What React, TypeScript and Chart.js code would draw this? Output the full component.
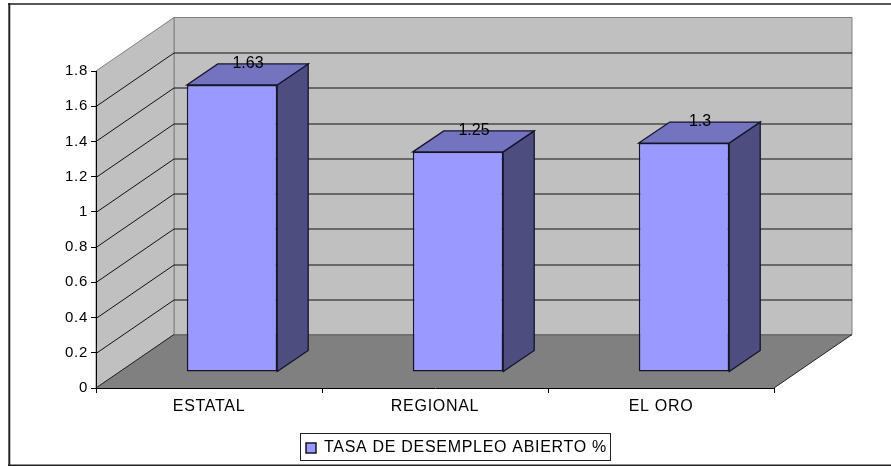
import React, { useEffect, useRef } from "react";
import { Chart, registerables } from "chart.js";

Chart.register(...registerables);

const categories = ["ESTATAL", "REGIONAL", "EL ORO"];
const seriesName = "TASA DE DESEMPLEO ABIERTO %";
const values = [1.63, 1.25, 1.3];

const FONT = "'Liberation Sans', Arial, sans-serif";
const WALL_DX = 78;
const WALL_DY = -53.5;
const BAR_SHIFT_X = 23;
const BAR_SHIFT_Y = -16;
const BAR_DX = 31;
const BAR_DY = -21;
const SPACING = "0.7px";

const walls = {
  id: "walls",
  beforeLayout(chart: any) {
    chart.ctx.letterSpacing = SPACING;
  },
  beforeDraw(chart: any) {
    const { ctx, chartArea: a, scales } = chart;
    const y = scales.y;
    ctx.letterSpacing = SPACING;
    ctx.save();
    ctx.fillStyle = "#ffffff";
    ctx.fillRect(0, 0, chart.width, chart.height);
    // outer frame
    ctx.strokeStyle = "#222222";
    ctx.lineWidth = 2;
    ctx.beginPath();
    ctx.moveTo(9.3, 466);
    ctx.lineTo(9.3, 3.3);
    ctx.stroke();
    ctx.lineWidth = 1.4;
    ctx.beginPath();
    ctx.moveTo(8, 4);
    ctx.lineTo(891, 4);
    ctx.moveTo(8, 465.3);
    ctx.lineTo(891, 465.3);
    ctx.stroke();
    ctx.lineWidth = 1;
    // back wall
    ctx.fillStyle = "#c0c0c0";
    ctx.strokeStyle = "#808080";
    ctx.beginPath();
    ctx.rect(a.left + WALL_DX, a.top + WALL_DY, a.right - a.left, a.bottom - a.top);
    ctx.fill();
    ctx.stroke();
    // side wall
    ctx.beginPath();
    ctx.moveTo(a.left, a.bottom);
    ctx.lineTo(a.left, a.top);
    ctx.lineTo(a.left + WALL_DX, a.top + WALL_DY);
    ctx.lineTo(a.left + WALL_DX, a.bottom + WALL_DY);
    ctx.closePath();
    ctx.fill();
    ctx.stroke();
    // gridlines
    ctx.strokeStyle = "#111111";
    y.ticks.forEach((_: any, i: number) => {
      if (i === 0 || i === y.ticks.length - 1) return;
      const p = Math.round(y.getPixelForTick(i)) + 0.5;
      ctx.beginPath();
      ctx.moveTo(a.left, p);
      ctx.lineTo(a.left + WALL_DX, p + WALL_DY);
      ctx.lineTo(a.right + WALL_DX, p + WALL_DY);
      ctx.stroke();
    });
    // floor
    ctx.fillStyle = "#808080";
    ctx.beginPath();
    ctx.moveTo(a.left, a.bottom);
    ctx.lineTo(a.right, a.bottom);
    ctx.lineTo(a.right + WALL_DX, a.bottom + WALL_DY);
    ctx.lineTo(a.left + WALL_DX, a.bottom + WALL_DY);
    ctx.closePath();
    ctx.fill();
    ctx.strokeStyle = "#606060";
    ctx.beginPath();
    ctx.moveTo(a.left + WALL_DX, a.bottom + WALL_DY + 0.5);
    ctx.lineTo(a.right + WALL_DX, a.bottom + WALL_DY + 0.5);
    ctx.stroke();
    ctx.strokeStyle = "#222222";
    ctx.beginPath();
    ctx.moveTo(a.right, a.bottom);
    ctx.lineTo(a.right + WALL_DX, a.bottom + WALL_DY);
    ctx.moveTo(a.left, a.bottom);
    ctx.lineTo(a.left + WALL_DX, a.bottom + WALL_DY);
    ctx.stroke();
    ctx.restore();
  },
  beforeDatasetDraw(chart: any) {
    const { ctx } = chart;
    const meta = chart.getDatasetMeta(0);
    ctx.save();
    ctx.translate(BAR_SHIFT_X, BAR_SHIFT_Y);
    ctx.lineWidth = 1.3;
    ctx.strokeStyle = "#14142b";
    meta.data.forEach((bar: any) => {
      const r = bar.x + bar.width / 2;
      const l = bar.x - bar.width / 2;
      ctx.fillStyle = "#4d4d80";
      ctx.beginPath();
      ctx.moveTo(r, bar.y);
      ctx.lineTo(r + BAR_DX, bar.y + BAR_DY);
      ctx.lineTo(r + BAR_DX, bar.base + BAR_DY);
      ctx.lineTo(r, bar.base);
      ctx.closePath();
      ctx.fill();
      ctx.stroke();
      ctx.fillStyle = "#7373bf";
      ctx.beginPath();
      ctx.moveTo(l, bar.y);
      ctx.lineTo(l + BAR_DX, bar.y + BAR_DY);
      ctx.lineTo(r + BAR_DX, bar.y + BAR_DY);
      ctx.lineTo(r, bar.y);
      ctx.closePath();
      ctx.fill();
      ctx.stroke();
    });
  },
  afterDatasetDraw(chart: any) {
    chart.ctx.restore();
  },
  afterDatasetsDraw(chart: any) {
    const { ctx } = chart;
    const meta = chart.getDatasetMeta(0);
    ctx.save();
    ctx.letterSpacing = "0px";
    ctx.fillStyle = "#000000";
    ctx.font = `16px ${FONT}`;
    ctx.textAlign = "center";
    ctx.textBaseline = "middle";
    meta.data.forEach((bar: any, i: number) => {
      ctx.fillText(
        String(values[i]),
        bar.x + BAR_SHIFT_X + BAR_DX / 2 + 0.5,
        bar.y + BAR_SHIFT_Y + BAR_DY
      );
    });
    ctx.restore();
  },
  afterDraw(chart: any) {
    const { ctx } = chart;
    ctx.save();
    ctx.strokeStyle = "#222222";
    ctx.lineWidth = 1;
    ctx.strokeRect(300.5, 433.5, 310, 27);
    ctx.restore();
  },
};

export default function App() {
  const ref = useRef<HTMLCanvasElement>(null);
  useEffect(() => {
    document.body.style.margin = "0";
    const chart = new Chart(ref.current as HTMLCanvasElement, {
      type: "bar",
      data: {
        labels: categories,
        datasets: [
          {
            label: seriesName,
            data: values,
            backgroundColor: "#9999ff",
            borderColor: "#14142b",
            borderWidth: 1.5,
            borderSkipped: false,
            barPercentage: 0.4,
            categoryPercentage: 1,
          },
        ],
      },
      options: {
        animation: false,
        responsive: false,
        layout: { padding: { top: 71, right: 0, bottom: 0, left: 22 } },
        scales: {
          x: {
            afterFit(s: any) {
              s.height = 44;
            },
            grid: { drawOnChartArea: false, color: "#000000", tickLength: 5 },
            border: { color: "#000000" },
            ticks: { color: "#000000", font: { family: FONT, size: 16 }, padding: 4, maxRotation: 0 },
          },
          y: {
            min: 0,
            max: 1.8,
            afterFit(s: any) {
              s.width = 74;
            },
            grid: { drawOnChartArea: false, color: "#000000", tickLength: 5 },
            border: { color: "#000000" },
            ticks: {
              stepSize: 0.2,
              color: "#000000",
              font: { family: FONT, size: 15 },
              padding: 3,
              callback: (v: any) => String(Number(Number(v).toFixed(1))),
            },
          },
          y2: {
            position: "right",
            display: true,
            afterFit(s: any) {
              s.width = 117;
            },
            grid: { display: false },
            border: { display: false },
            ticks: { display: false },
          },
        },
        plugins: {
          title: { display: false },
          tooltip: { enabled: false },
          legend: {
            display: true,
            position: "bottom",
            labels: {
              boxWidth: 10,
              boxHeight: 10,
              color: "#000000",
              font: { family: FONT, size: 16 },
              padding: 8,
            },
          },
        },
      },
      plugins: [walls],
    } as any);
    return () => chart.destroy();
  }, []);
  return <canvas ref={ref} width={891} height={466} style={{ display: "block" }} />;
}
